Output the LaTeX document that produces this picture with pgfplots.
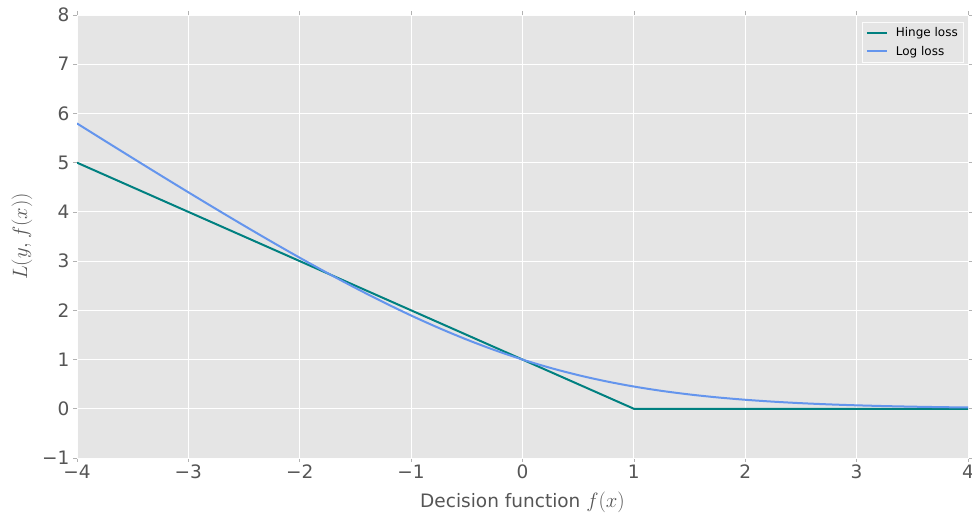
\documentclass[border=0pt]{standalone}
\usepackage{pgfplots}
\pgfplotsset{compat=1.18}
\usepackage{fontspec}
\setmainfont{DejaVu Sans}
\definecolor{bg}{HTML}{E5E5E5}
\definecolor{hinge}{HTML}{008080}
\definecolor{logc}{HTML}{6495ED}
\definecolor{tickc}{HTML}{555555}
\begin{document}
\begin{tikzpicture}
\begin{axis}[
  scale only axis,
  width=891pt, height=443pt,
  xmin=-4, xmax=4, ymin=-1, ymax=8,
  xtick={-4,-3,-2,-1,0,1,2,3,4},
  xticklabels={−4,−3,−2,−1,0,1,2,3,4},
  ytick={-1,0,1,2,3,4,5,6,7,8},
  yticklabels={−1,0,1,2,3,4,5,6,7,8},
  axis background/.style={fill=bg},
  axis line style={draw=white!95!bg, line width=0.8pt},
  grid=major,
  major grid style={draw=white, line width=0.8pt},
  tick style={draw=black!30, line width=0.6pt},
  tick align=outside,
  major tick length=4pt,
  ticklabel style={font=\fontsize{18.5}{20}\selectfont, text=tickc},
  xticklabel style={yshift=1pt},
  xlabel={Decision function {\fontsize{21.5}{24}\selectfont$f(x)$}},
  ylabel={$L(y,f(x))$},
  xlabel style={font=\fontsize{18.5}{20}\selectfont, text=tickc, at={(axis description cs:0.5,-0.1)}, anchor=center},
  ylabel style={font=\fontsize{21.5}{24}\selectfont, text=tickc, at={(axis description cs:-0.0617,0.5)}, anchor=center},
  legend style={at={(0.9944,0.984)}, anchor=north east, fill=bg, draw=white!85!bg,
    font=\fontsize{12}{14}\selectfont, row sep=3.5pt, inner xsep=3pt, inner ysep=3.5pt},
  legend image code/.code={\draw[line width=2pt,#1] (0pt,0pt) -- (20pt,0pt); \path (-1pt,0pt) (26pt,0pt);},
  legend cell align=left,
  every axis plot/.append style={line width=2pt},
]
\coordinate (sw) at (rel axis cs:0,0);
\coordinate (ne) at (rel axis cs:1,1);
\addplot[color=hinge] coordinates {(-4,5) (1,0) (4,0)};
\addlegendentry{Hinge loss}
\addplot[color=logc, smooth] coordinates {
(-4,5.7970) (-3.75,5.4437) (-3.5,5.0924) (-3.25,4.7436) (-3,4.3982)
(-2.75,4.0568) (-2.5,3.7206) (-2.25,3.3906) (-2,3.0685) (-1.75,2.7559)
(-1.5,2.4546) (-1.25,2.1668) (-1,1.8946) (-0.75,1.6402) (-0.5,1.4053)
(-0.25,1.1916) (0,1) (0.25,0.8309) (0.5,0.6839) (0.75,0.5581)
(1,0.4519) (1.25,0.3635) (1.5,0.2906) (1.75,0.2311) (2,0.1831)
(2.25,0.1446) (2.5,0.1138) (2.75,0.0894) (3,0.0701) (3.25,0.0549)
(3.5,0.0429) (3.75,0.0335) (4,0.0262)};
\addlegendentry{Log loss}
\end{axis}
\pgfresetboundingbox
\path[use as bounding box] ([shift={(-77pt,-60pt)}]sw) rectangle ([shift={(4pt,15pt)}]ne);
\end{tikzpicture}
\end{document}
